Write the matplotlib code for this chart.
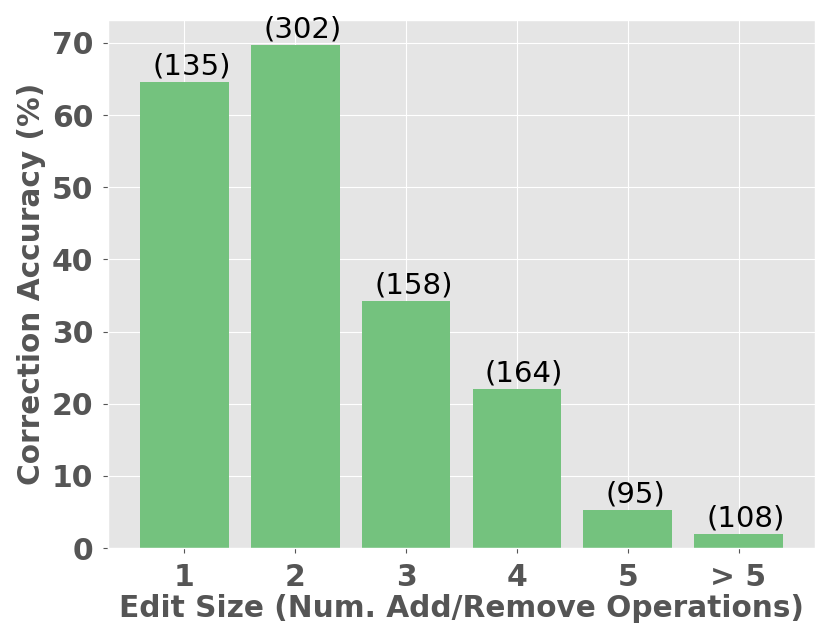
import matplotlib
matplotlib.use("Agg")
import matplotlib.pyplot as plt

# Data
categories = ["1", "2", "3", "4", "5", "> 5"]
accuracy = [64.6, 69.7, 34.3, 22.0, 5.3, 1.9]
counts = [135, 302, 158, 164, 95, 108]

BAR_COLOR = "#74c27e"
TEXT_COLOR = "#555555"

plt.style.use("ggplot")

fig = plt.figure(figsize=(8.31, 6.42), dpi=100)
ax = fig.add_axes([108 / 831, 1 - 548 / 642, 707 / 831, 528 / 642])

x = list(range(len(categories)))
bars = ax.bar(x, accuracy, width=0.8, color=BAR_COLOR)

# count labels sit a little right of the bar centre, as in the original
for xi, val, c in zip(x, accuracy, counts):
    ax.annotate(f"({c})", (xi + 0.065, val), xytext=(0, 1),
                textcoords="offset points", ha="center", va="bottom",
                fontsize=21, color="black")

ax.set_xticks(x)
ax.set_xticklabels(categories)
ax.set_yticks([0, 10, 20, 30, 40, 50, 60, 70])
ax.tick_params(axis="both", labelsize=21.5, colors=TEXT_COLOR,
               labelcolor=TEXT_COLOR, pad=7)
for lbl in ax.get_xticklabels() + ax.get_yticklabels():
    lbl.set_fontweight("bold")

ax.set_xlabel("Edit Size (Num. Add/Remove Operations)", fontsize=21.3,
              fontweight="bold", color=TEXT_COLOR, labelpad=2)
ax.set_ylabel("Correction Accuracy (%)", fontsize=21.3,
              fontweight="bold", color=TEXT_COLOR, labelpad=4)

fig.savefig("out.png", dpi=100)
plt.close(fig)
